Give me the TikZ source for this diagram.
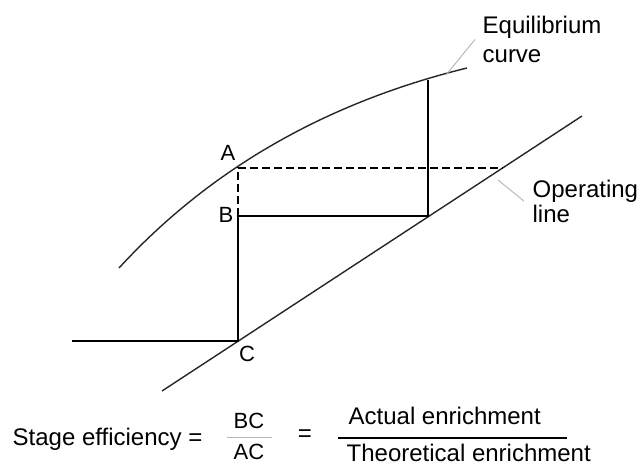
\documentclass[tikz,border=0pt]{standalone}
\usepackage{fontspec}
\setmainfont{Liberation Sans}
\begin{document}
\begin{tikzpicture}[x=1pt,y=-1pt,line width=1.3pt,
  stageline/.style={line width=2pt,black},
  dashline/.style={line width=2pt,black,dash pattern=on 8pt off 4pt},
  curveline/.style={line width=1.4pt,black!85},
  leader/.style={line width=1pt,gray!55},
  pointlbl/.style={inner sep=0pt,font=\fontsize{22}{26}\selectfont},
  txt/.style={inner sep=0pt,font=\fontsize{24}{29}\selectfont,align=left}]
\path[use as bounding box] (0,0) rectangle (642,468);
\coordinate (eqstart) at (119,268);
\coordinate (eqend) at (467,68);
\coordinate (opstart) at (162,391);
\coordinate (opend) at (582,116);
\coordinate (A) at (238,168);
\coordinate (B) at (238,216);
\coordinate (C) at (238,341);
\coordinate (D) at (428,216);
\coordinate (E) at (428,80);
\coordinate (F) at (503,168);
\coordinate (feed) at (72,341);
\coordinate (eqtip) at (446,75);
\coordinate (optip) at (498,180);
\draw[curveline] (eqstart) .. controls (209.7,169.3) and (325.7,102.7) .. (eqend);
\draw[curveline] (opstart) -- (opend);
\draw[stageline] (feed) -- (C) -- (B) -- (D) -- (E);
\draw[dashline] (B) -- (A) -- (F);
\node[pointlbl] (labA) at (228,153) {A};
\node[pointlbl] (labB) at (226,215) {B};
\node[pointlbl] (labC) at (247,354) {C};
\node[txt,anchor=north west] (eqlab) at (482,15.5) {Equilibrium\\curve};
\node[txt,anchor=north west] (oplab) at (532,179.2) {Operating\\[-4pt]line};
\draw[leader] ([xshift=-7pt]eqlab.west) -- (eqtip);
\draw[leader] ([xshift=-8pt]oplab.west) -- (optip);
\node[txt,anchor=base west] (eff) at (12,445) {Stage efficiency =};
\node[pointlbl,anchor=base] (bc) at (249,428) {BC};
\node[pointlbl,anchor=base] (ac) at (249,459) {AC};
\draw[leader] (227,437) -- (272,437);
\node[txt] (eqsign) at (305,436) {=};
\node[txt,anchor=base west] (actual) at (348,424) {Actual enrichment};
\node[txt,anchor=base west] (theory) at (346,461) {Theoretical enrichment};
\draw[stageline] (338,438) -- (567,438);
\end{tikzpicture}
\end{document}
